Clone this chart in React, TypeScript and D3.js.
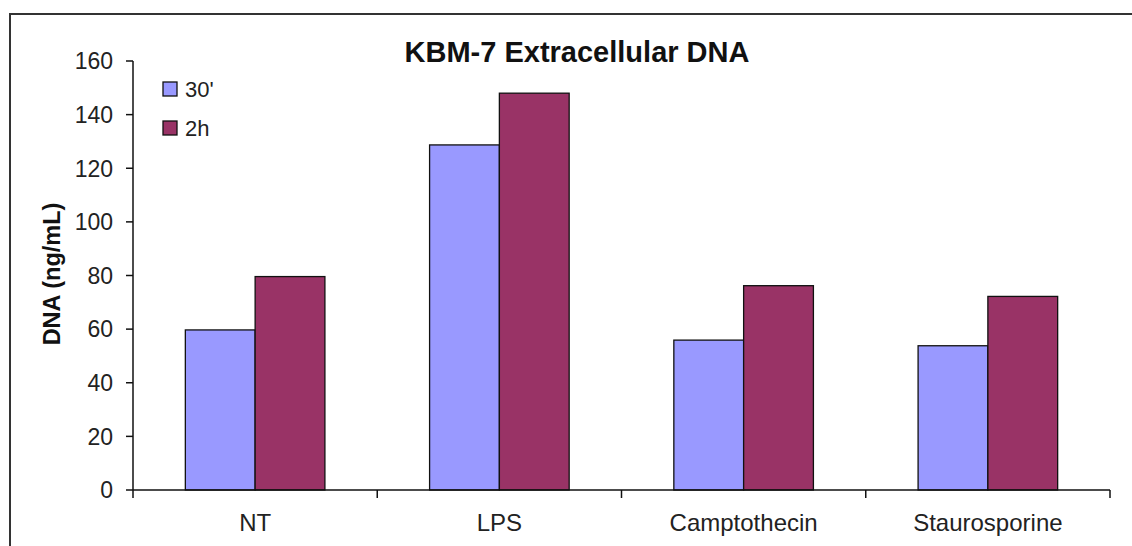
import React from "react";
import * as d3 from "d3";

// Treatments and the two time points measured for each
const categories = ["NT", "LPS", "Camptothecin", "Staurosporine"];
const seriesNames = ["30'", "2h"];
const values30min = [59.7, 128.7, 55.9, 53.8];
const values2h = [79.6, 148.0, 76.2, 72.2];
const yTicks = [0, 20, 40, 60, 80, 100, 120, 140, 160];

const seriesValues = [values30min, values2h];
const seriesColors = ["#9999FF", "#993366"];

const W = 1132;
const H = 546;
const FONT = "Arial, 'Liberation Sans', sans-serif";

export default function App() {
  const x0 = d3.scaleBand<string>().domain(categories).range([133, 1110]).padding(0);
  const x1 = d3
    .scaleBand<string>()
    .domain(seriesNames)
    .range([0, x0.bandwidth()])
    .paddingInner(0)
    .paddingOuter(0.75);
  const y = d3.scaleLinear().domain([0, 160]).range([490, 61]);

  const [xStart, xEnd] = x0.range();

  return (
    <svg
      width={W}
      height={H}
      style={{ position: "absolute", left: 0, top: 0, display: "block", background: "#fff" }}
      fontFamily={FONT}
    >
      {/* chart area frame */}
      <rect x={10} y={14} width={1134} height={560} fill="#fff" stroke="#333" strokeWidth={2} />

      {/* title */}
      <text x={577} y={62} textAnchor="middle" fontSize={29} fontWeight="bold" fill="#111">
        KBM-7 Extracellular DNA
      </text>

      {/* bars */}
      {categories.map((c, i) => (
        <g key={c} transform={`translate(${x0(c)},0)`}>
          {seriesNames.map((s, j) => {
            const v = seriesValues[j][i];
            return (
              <rect
                key={s}
                x={x1(s)}
                y={y(v)}
                width={x1.bandwidth()}
                height={y(0) - y(v)}
                fill={seriesColors[j]}
                stroke="#111"
                strokeWidth={1.3}
              />
            );
          })}
        </g>
      ))}

      {/* y axis */}
      <line x1={133} x2={133} y1={y(160)} y2={y(0)} stroke="#111" strokeWidth={1.5} />
      {yTicks.map((t) => (
        <g key={t}>
          <line x1={126} x2={133} y1={y(t)} y2={y(t)} stroke="#111" strokeWidth={1.5} />
          <text x={113} y={y(t)} dy="0.36em" textAnchor="end" fontSize={23} fill="#222">
            {t}
          </text>
        </g>
      ))}

      {/* x axis */}
      <line x1={xStart} x2={xEnd} y1={y(0)} y2={y(0)} stroke="#111" strokeWidth={1.5} />
      {[...categories.map((c) => x0(c) as number), xEnd].map((px, i) => (
        <line key={i} x1={px} x2={px} y1={y(0)} y2={y(0) + 8} stroke="#111" strokeWidth={1.5} />
      ))}
      {categories.map((c) => (
        <text
          key={c}
          x={(x0(c) as number) + x0.bandwidth() / 2}
          y={531}
          textAnchor="middle"
          fontSize={24}
          fill="#222"
        >
          {c}
        </text>
      ))}

      {/* y axis title */}
      <text
        transform={`translate(52,${274}) rotate(-90)`}
        textAnchor="middle"
        dy="0.36em"
        fontSize={23.5}
        fontWeight="bold"
        fill="#111"
      >
        DNA (ng/mL)
      </text>

      {/* legend */}
      {seriesNames.map((s, j) => {
        const cy = 89 + j * 39;
        return (
          <g key={s}>
            <rect x={163} y={cy - 7} width={14} height={14} fill={seriesColors[j]} stroke="#111" strokeWidth={1.3} />
            <text x={185} y={cy} dy="0.36em" fontSize={22} fill="#222">
              {s}
            </text>
          </g>
        );
      })}
    </svg>
  );
}
